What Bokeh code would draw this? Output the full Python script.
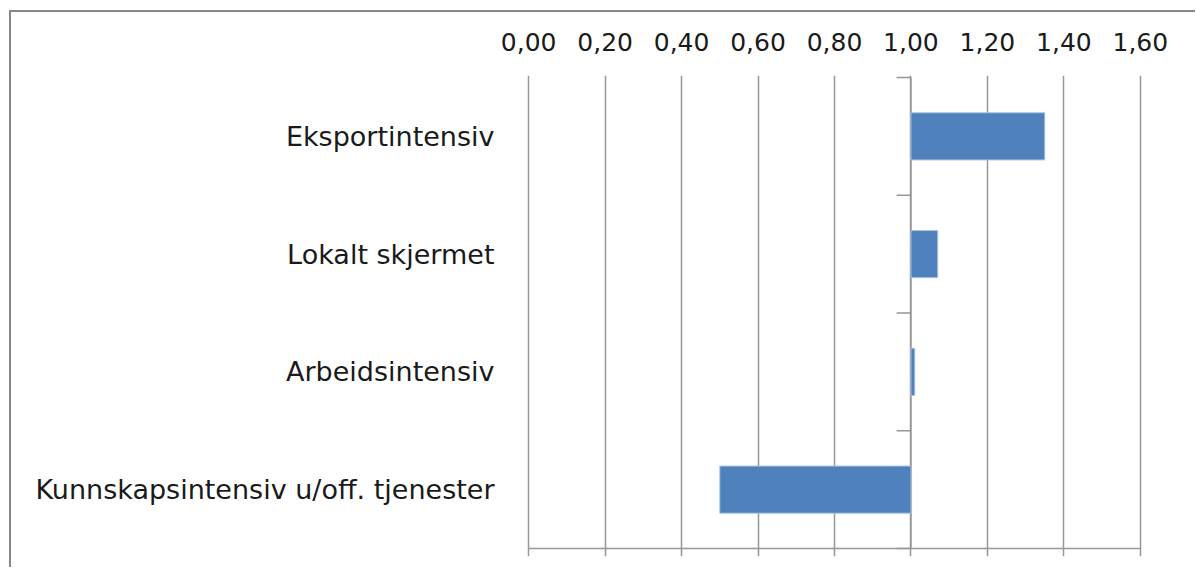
from bokeh.plotting import figure
from bokeh.models import Range1d, FixedTicker, LinearAxis, ColumnDataSource
from bokeh.embed import file_html
from bokeh.resources import INLINE

# ---- data ----
categories = ["Kunnskapsintensiv u/off. tjenester", "Arbeidsintensiv",
              "Lokalt skjermet", "Eksportintensiv"]
values = [0.50, 1.01, 1.07, 1.35]
baseline = 1.0
x_ticks = [0.0, 0.2, 0.4, 0.6, 0.8, 1.0, 1.2, 1.4, 1.6]
x_tick_labels = ["0,00", "0,20", "0,40", "0,60", "0,80", "1,00", "1,20", "1,40", "1,60"]

n = len(categories)
centers = [i + 0.5 for i in range(n)]
boundaries = list(range(n + 1))

src = ColumnDataSource(dict(y=centers, right=values, left=[baseline] * n))

FONT = "DejaVu Sans"
GRID = "#979797"
TICK_LEN = 0.0375   # length of the small category ticks (in x units, ~9px)
TICK_DOWN = 0.068   # room below the axis line for its tick marks (~8px)
XPAD = 0.0083       # ~2px so the edge grid lines are not clipped
YPAD = 0.017

p = figure(width=1186, height=557, output_backend="svg", toolbar_location=None,
           x_range=Range1d(x_ticks[0] - XPAD, x_ticks[-1] + XPAD),
           y_range=Range1d(-TICK_DOWN, n + YPAD),
           x_axis_location=None, y_axis_location=None,
           min_border_left=514, min_border_right=54,
           min_border_top=63, min_border_bottom=13)
p.styles = {"margin-left": "9px", "margin-top": "10px",
            "border-left": "2px solid #878787", "border-top": "2px solid #878787"}
p.outline_line_color = None
p.background_fill_color = "white"
p.border_fill_color = "white"

# vertical grid lines (they also form the ticks below the axis line)
p.xgrid.ticker = FixedTicker(ticks=x_ticks)
p.xgrid.grid_line_color = GRID
p.xgrid.grid_line_width = 1.5
p.ygrid.grid_line_color = None

# horizontal axis line at the bottom
p.segment(x0=[x_ticks[0]], x1=[x_ticks[-1]], y0=[0], y1=[0],
          line_color=GRID, line_width=1.5)
# small category separator ticks on the baseline axis
p.segment(x0=[baseline - TICK_LEN] * len(boundaries), x1=[baseline] * len(boundaries),
          y0=boundaries, y1=boundaries, line_color=GRID, line_width=1.5)
# baseline axis line from top
p.segment(x0=[baseline], x1=[baseline], y0=[0], y1=[n],
          line_color=GRID, line_width=1.5)

# bars
p.hbar(y="y", left="left", right="right", height=0.4, source=src,
       fill_color="#4F81BD", line_color="#a9c2e0", line_width=1)

# top axis with labels
top = LinearAxis(ticker=FixedTicker(ticks=x_ticks),
                 major_label_overrides={t: l for t, l in zip(x_ticks, x_tick_labels)})
top.axis_line_color = None
top.major_tick_line_color = None
top.minor_tick_line_color = None
top.major_label_text_font = FONT
top.major_label_text_font_size = "25px"
top.major_label_text_color = "#1a1a1a"
top.major_label_standoff = 19
p.add_layout(top, "above")

# category labels on the left
lab = LinearAxis(ticker=FixedTicker(ticks=centers),
                 major_label_overrides={c: t for c, t in zip(centers, categories)})
lab.axis_line_color = None
lab.major_tick_line_color = None
lab.minor_tick_line_color = None
lab.major_label_text_font = FONT
lab.major_label_text_font_size = "27px"
lab.major_label_text_color = "#1a1a1a"
lab.major_label_standoff = 25
p.add_layout(lab, "left")

open("out.html", "w").write(file_html(p, INLINE))
